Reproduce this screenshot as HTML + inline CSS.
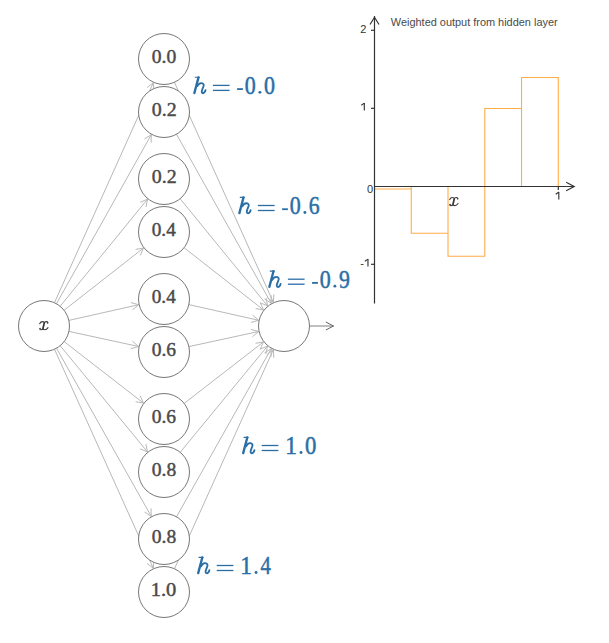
<!DOCTYPE html>
<html><head><meta charset="utf-8"><style>
html,body{margin:0;padding:0;background:#fff;}
svg{display:block;}
.nv{font-family:"Liberation Serif",serif;fill:#4a4a4a;}

.hl{font-family:"Liberation Serif",serif;fill:#2A6EA6;}

.tk{font-family:"Liberation Sans",sans-serif;font-size:11px;fill:#333;}
.ttl{font-family:"Liberation Sans",sans-serif;font-size:11px;fill:#4a4a4a;}
</style></head><body>
<svg width="609" height="643" viewBox="0 0 609 643">
<line x1="54.45" y1="302.74" x2="153.34" y2="82.71" stroke="#b8b8b8" stroke-width="1"/><polyline points="147.02,87.62 153.34,82.71 153.87,90.70" fill="none" stroke="#b8b8b8" stroke-width="1"/><line x1="174.45" y1="82.26" x2="273.34" y2="302.29" stroke="#b8b8b8" stroke-width="1"/><polyline points="273.87,294.30 273.34,302.29 267.02,297.38" fill="none" stroke="#b8b8b8" stroke-width="1"/><line x1="56.47" y1="303.76" x2="151.28" y2="134.68" stroke="#b8b8b8" stroke-width="1"/><polyline points="144.55,139.00 151.28,134.68 151.10,142.68" fill="none" stroke="#b8b8b8" stroke-width="1"/><line x1="176.47" y1="134.24" x2="271.28" y2="303.32" stroke="#b8b8b8" stroke-width="1"/><polyline points="271.10,295.32 271.28,303.32 264.55,299.00" fill="none" stroke="#b8b8b8" stroke-width="1"/><line x1="60.13" y1="306.25" x2="147.56" y2="199.14" stroke="#b8b8b8" stroke-width="1"/><polyline points="140.18,202.24 147.56,199.14 146.00,206.99" fill="none" stroke="#b8b8b8" stroke-width="1"/><line x1="180.13" y1="198.75" x2="267.56" y2="305.86" stroke="#b8b8b8" stroke-width="1"/><polyline points="266.00,298.01 267.56,305.86 260.18,302.76" fill="none" stroke="#b8b8b8" stroke-width="1"/><line x1="64.07" y1="310.28" x2="143.53" y2="248.03" stroke="#b8b8b8" stroke-width="1"/><polyline points="135.66,249.43 143.53,248.03 140.29,255.35" fill="none" stroke="#b8b8b8" stroke-width="1"/><line x1="184.07" y1="247.72" x2="263.53" y2="309.97" stroke="#b8b8b8" stroke-width="1"/><polyline points="260.29,302.65 263.53,309.97 255.66,308.57" fill="none" stroke="#b8b8b8" stroke-width="1"/><line x1="68.88" y1="320.40" x2="138.63" y2="304.71" stroke="#b8b8b8" stroke-width="1"/><polyline points="130.92,302.59 138.63,304.71 132.57,309.92" fill="none" stroke="#b8b8b8" stroke-width="1"/><line x1="188.88" y1="304.60" x2="258.63" y2="320.29" stroke="#b8b8b8" stroke-width="1"/><polyline points="252.57,315.08 258.63,320.29 250.92,322.41" fill="none" stroke="#b8b8b8" stroke-width="1"/><line x1="68.92" y1="331.40" x2="138.59" y2="346.49" stroke="#b8b8b8" stroke-width="1"/><polyline points="132.48,341.33 138.59,346.49 130.89,348.67" fill="none" stroke="#b8b8b8" stroke-width="1"/><line x1="188.92" y1="346.60" x2="258.59" y2="331.51" stroke="#b8b8b8" stroke-width="1"/><polyline points="250.89,329.33 258.59,331.51 252.48,336.67" fill="none" stroke="#b8b8b8" stroke-width="1"/><line x1="64.16" y1="341.62" x2="143.45" y2="403.07" stroke="#b8b8b8" stroke-width="1"/><polyline points="140.17,395.78 143.45,403.07 135.57,401.71" fill="none" stroke="#b8b8b8" stroke-width="1"/><line x1="184.16" y1="403.38" x2="263.45" y2="341.93" stroke="#b8b8b8" stroke-width="1"/><polyline points="255.57,343.29 263.45,341.93 260.17,349.22" fill="none" stroke="#b8b8b8" stroke-width="1"/><line x1="60.19" y1="345.70" x2="147.49" y2="451.91" stroke="#b8b8b8" stroke-width="1"/><polyline points="145.91,444.07 147.49,451.91 140.10,448.84" fill="none" stroke="#b8b8b8" stroke-width="1"/><line x1="180.19" y1="452.30" x2="267.49" y2="346.09" stroke="#b8b8b8" stroke-width="1"/><polyline points="260.10,349.16 267.49,346.09 265.91,353.93" fill="none" stroke="#b8b8b8" stroke-width="1"/><line x1="56.52" y1="348.22" x2="151.24" y2="516.35" stroke="#b8b8b8" stroke-width="1"/><polyline points="151.04,508.35 151.24,516.35 144.50,512.04" fill="none" stroke="#b8b8b8" stroke-width="1"/><line x1="176.52" y1="516.78" x2="271.24" y2="348.65" stroke="#b8b8b8" stroke-width="1"/><polyline points="264.50,352.96 271.24,348.65 271.04,356.65" fill="none" stroke="#b8b8b8" stroke-width="1"/><line x1="54.49" y1="349.24" x2="153.31" y2="568.30" stroke="#b8b8b8" stroke-width="1"/><polyline points="153.83,560.32 153.31,568.30 146.98,563.41" fill="none" stroke="#b8b8b8" stroke-width="1"/><line x1="174.49" y1="568.76" x2="273.31" y2="349.70" stroke="#b8b8b8" stroke-width="1"/><polyline points="266.98,354.59 273.31,349.70 273.83,357.68" fill="none" stroke="#b8b8b8" stroke-width="1"/><line x1="309.5" y1="326" x2="333.5" y2="326" stroke="#808080" stroke-width="1"/><polyline points="325.8,322 333.5,326 325.8,330" fill="none" stroke="#666" stroke-width="1"/>
<circle cx="44" cy="326" r="25.5" fill="#fff" stroke="#777" stroke-width="1"/><circle cx="284" cy="326" r="25.5" fill="#fff" stroke="#777" stroke-width="1"/><circle cx="164" cy="59" r="25.5" fill="#fff" stroke="#777" stroke-width="1"/><text class="nv" font-size="19.247" transform="translate(151.75,63.00) scale(1.0180,1)" x="0" y="0" stroke="#4a4a4a" stroke-width="0.45" style="">0.0</text><circle cx="164" cy="112" r="25.5" fill="#fff" stroke="#777" stroke-width="1"/><text class="nv" font-size="19.247" transform="translate(151.74,116.00) scale(1.0331,1)" x="0" y="0" stroke="#4a4a4a" stroke-width="0.45" style="">0.2</text><circle cx="164" cy="179" r="25.5" fill="#fff" stroke="#777" stroke-width="1"/><text class="nv" font-size="19.247" transform="translate(151.74,183.00) scale(1.0331,1)" x="0" y="0" stroke="#4a4a4a" stroke-width="0.45" style="">0.2</text><circle cx="164" cy="232" r="25.5" fill="#fff" stroke="#777" stroke-width="1"/><text class="nv" font-size="19.247" transform="translate(151.77,236.00) scale(0.9989,1)" x="0" y="0" stroke="#4a4a4a" stroke-width="0.45" style="">0.4</text><circle cx="164" cy="299" r="25.5" fill="#fff" stroke="#777" stroke-width="1"/><text class="nv" font-size="19.247" transform="translate(151.77,303.00) scale(0.9989,1)" x="0" y="0" stroke="#4a4a4a" stroke-width="0.45" style="">0.4</text><circle cx="164" cy="352" r="25.5" fill="#fff" stroke="#777" stroke-width="1"/><text class="nv" font-size="19.247" transform="translate(151.76,356.00) scale(1.0109,1)" x="0" y="0" stroke="#4a4a4a" stroke-width="0.45" style="">0.6</text><circle cx="164" cy="419" r="25.5" fill="#fff" stroke="#777" stroke-width="1"/><text class="nv" font-size="19.247" transform="translate(151.76,423.00) scale(1.0109,1)" x="0" y="0" stroke="#4a4a4a" stroke-width="0.45" style="">0.6</text><circle cx="164" cy="472" r="25.5" fill="#fff" stroke="#777" stroke-width="1"/><text class="nv" font-size="19.247" transform="translate(151.75,476.00) scale(1.0180,1)" x="0" y="0" stroke="#4a4a4a" stroke-width="0.45" style="">0.8</text><circle cx="164" cy="539" r="25.5" fill="#fff" stroke="#777" stroke-width="1"/><text class="nv" font-size="19.247" transform="translate(151.75,543.00) scale(1.0180,1)" x="0" y="0" stroke="#4a4a4a" stroke-width="0.45" style="">0.8</text><circle cx="164" cy="592" r="25.5" fill="#fff" stroke="#777" stroke-width="1"/><text class="nv" font-size="19.247" transform="translate(150.70,596.00) scale(1.0631,1)" x="0" y="0" stroke="#4a4a4a" stroke-width="0.45" style="">1.0</text><g transform="translate(43.85,325.7) scale(0.96,0.93) translate(-4.95,-4.55)" fill="none" stroke="#3a3a3a" stroke-linecap="round"><path d="M0.6,2.4 C1.4,0.9 2.4,0.2 3.4,0.2 C4.6,0.2 5.4,0.8 5.4,1.6" stroke-width="1.15"/><path d="M5.4,1.6 L4.0,7.6" stroke-width="1.8"/><path d="M4.0,7.6 C3.8,8.4 3.0,8.9 2.2,8.9 C1.4,8.9 0.8,8.5 0.6,8.0" stroke-width="1.15"/><path d="M9.2,1.4 C8.8,0.5 8.2,0.2 7.4,0.2 C6.4,0.2 5.6,1.0 5.4,1.6" stroke-width="1.15"/><path d="M4.0,7.6 C4.0,8.4 4.8,8.9 5.8,8.9 C7.2,8.9 8.6,7.8 9.3,6.6" stroke-width="1.15"/><circle cx="8.8" cy="1.6" r="0.75" fill="#3a3a3a" stroke="none"/><circle cx="1.1" cy="7.6" r="0.75" fill="#3a3a3a" stroke="none"/></g>
<g transform="translate(193,93.7)" fill="none" stroke="#2A6EA6" stroke-linecap="round" stroke-linejoin="round"><path d="M2.2,-16.45 L6.3,-16.45" stroke-width="1.15"/><path d="M5.5,-16.3 L1.4,-0.7" stroke-width="2.35"/><path d="M4.3,-7.6 C5.4,-9.6 6.7,-10.6 8.2,-10.6 C9.9,-10.6 11.0,-9.6 10.7,-8.0 L9.0,-3.4 C8.5,-1.7 8.9,-0.45 9.9,-0.45 C11.0,-0.45 12.0,-1.6 12.6,-3.6" stroke-width="1.85"/></g><rect x="212.90" y="84.75" width="16.70" height="1.3" fill="#2A6EA6"/><rect x="212.90" y="89.75" width="16.70" height="1.3" fill="#2A6EA6"/><rect x="237.10" y="88.20" width="5.8" height="1.8" fill="#2A6EA6"/><text class="hl" font-size="24.284" transform="translate(244.66,93.70) scale(0.9036,1)" x="0" y="0" stroke="#2A6EA6" stroke-width="0.5" style="">0</text><circle cx="259.90" cy="92.35" r="1.45" fill="#2A6EA6"/><text class="hl" font-size="24.284" transform="translate(263.96,93.70) scale(0.9036,1)" x="0" y="0" stroke="#2A6EA6" stroke-width="0.5" style="">0</text><g transform="translate(238,213.8)" fill="none" stroke="#2A6EA6" stroke-linecap="round" stroke-linejoin="round"><path d="M2.2,-16.45 L6.3,-16.45" stroke-width="1.15"/><path d="M5.5,-16.3 L1.4,-0.7" stroke-width="2.35"/><path d="M4.3,-7.6 C5.4,-9.6 6.7,-10.6 8.2,-10.6 C9.9,-10.6 11.0,-9.6 10.7,-8.0 L9.0,-3.4 C8.5,-1.7 8.9,-0.45 9.9,-0.45 C11.0,-0.45 12.0,-1.6 12.6,-3.6" stroke-width="1.85"/></g><rect x="257.90" y="204.85" width="16.70" height="1.3" fill="#2A6EA6"/><rect x="257.90" y="209.85" width="16.70" height="1.3" fill="#2A6EA6"/><rect x="282.10" y="208.30" width="5.8" height="1.8" fill="#2A6EA6"/><text class="hl" font-size="24.284" transform="translate(289.66,213.80) scale(0.9036,1)" x="0" y="0" stroke="#2A6EA6" stroke-width="0.5" style="">0</text><circle cx="304.90" cy="212.45" r="1.45" fill="#2A6EA6"/><text class="hl" font-size="24.392" transform="translate(308.86,213.80) scale(0.8924,1)" x="0" y="0" stroke="#2A6EA6" stroke-width="0.5" style="">6</text><g transform="translate(268,287.5)" fill="none" stroke="#2A6EA6" stroke-linecap="round" stroke-linejoin="round"><path d="M2.2,-16.45 L6.3,-16.45" stroke-width="1.15"/><path d="M5.5,-16.3 L1.4,-0.7" stroke-width="2.35"/><path d="M4.3,-7.6 C5.4,-9.6 6.7,-10.6 8.2,-10.6 C9.9,-10.6 11.0,-9.6 10.7,-8.0 L9.0,-3.4 C8.5,-1.7 8.9,-0.45 9.9,-0.45 C11.0,-0.45 12.0,-1.6 12.6,-3.6" stroke-width="1.85"/></g><rect x="287.90" y="278.55" width="16.70" height="1.3" fill="#2A6EA6"/><rect x="287.90" y="283.55" width="16.70" height="1.3" fill="#2A6EA6"/><rect x="312.10" y="282.00" width="5.8" height="1.8" fill="#2A6EA6"/><text class="hl" font-size="24.284" transform="translate(319.66,287.50) scale(0.9036,1)" x="0" y="0" stroke="#2A6EA6" stroke-width="0.5" style="">0</text><circle cx="334.90" cy="286.15" r="1.45" fill="#2A6EA6"/><text class="hl" font-size="24.392" transform="translate(339.10,287.50) scale(0.8934,1)" x="0" y="0" stroke="#2A6EA6" stroke-width="0.5" style="">9</text><g transform="translate(241.8,453.8)" fill="none" stroke="#2A6EA6" stroke-linecap="round" stroke-linejoin="round"><path d="M2.2,-16.45 L6.3,-16.45" stroke-width="1.15"/><path d="M5.5,-16.3 L1.4,-0.7" stroke-width="2.35"/><path d="M4.3,-7.6 C5.4,-9.6 6.7,-10.6 8.2,-10.6 C9.9,-10.6 11.0,-9.6 10.7,-8.0 L9.0,-3.4 C8.5,-1.7 8.9,-0.45 9.9,-0.45 C11.0,-0.45 12.0,-1.6 12.6,-3.6" stroke-width="1.85"/></g><rect x="261.70" y="444.85" width="16.70" height="1.3" fill="#2A6EA6"/><rect x="261.70" y="449.85" width="16.70" height="1.3" fill="#2A6EA6"/><text class="hl" font-size="24.464" transform="translate(285.35,453.80) scale(0.9521,1)" x="0" y="0" stroke="#2A6EA6" stroke-width="0.5" style="">1</text><circle cx="301.05" cy="452.45" r="1.45" fill="#2A6EA6"/><text class="hl" font-size="24.284" transform="translate(304.94,453.80) scale(0.9327,1)" x="0" y="0" stroke="#2A6EA6" stroke-width="0.5" style="">0</text><g transform="translate(196.8,573.8)" fill="none" stroke="#2A6EA6" stroke-linecap="round" stroke-linejoin="round"><path d="M2.2,-16.45 L6.3,-16.45" stroke-width="1.15"/><path d="M5.5,-16.3 L1.4,-0.7" stroke-width="2.35"/><path d="M4.3,-7.6 C5.4,-9.6 6.7,-10.6 8.2,-10.6 C9.9,-10.6 11.0,-9.6 10.7,-8.0 L9.0,-3.4 C8.5,-1.7 8.9,-0.45 9.9,-0.45 C11.0,-0.45 12.0,-1.6 12.6,-3.6" stroke-width="1.85"/></g><rect x="216.70" y="564.85" width="16.70" height="1.3" fill="#2A6EA6"/><rect x="216.70" y="569.85" width="16.70" height="1.3" fill="#2A6EA6"/><text class="hl" font-size="24.464" transform="translate(240.35,573.80) scale(0.9521,1)" x="0" y="0" stroke="#2A6EA6" stroke-width="0.5" style="">1</text><circle cx="256.05" cy="572.45" r="1.45" fill="#2A6EA6"/><text class="hl" font-size="24.536" transform="translate(260.40,573.80) scale(0.8417,1)" x="0" y="0" stroke="#2A6EA6" stroke-width="0.5" style="">4</text>
<path d="M374.50,186.5 L374.50,189.07 L411.26,189.07 L411.26,186.5 M411.26,186.5 L411.26,233.30 L448.02,233.30 L448.02,186.5 M448.02,186.5 L448.02,256.23 L484.78,256.23 L484.78,186.5 M484.78,186.5 L484.78,108.50 L521.54,108.50 L521.54,186.5 M521.54,186.5 L521.54,77.53 L558.30,77.53 L558.30,186.5 " fill="none" stroke="#ffad48" stroke-width="1.1"/><line x1="374.5" y1="303.5" x2="374.5" y2="16" stroke="#333" stroke-width="1.2"/><polyline points="370,24.5 374.5,17.3 379,24.5" fill="none" stroke="#333" stroke-width="1.2"/><line x1="374.5" y1="186.5" x2="574" y2="186.5" stroke="#333" stroke-width="1.2"/><polyline points="566.2,182.3 574.2,186.5 566.2,190.7" fill="none" stroke="#333" stroke-width="1.2"/><line x1="371.0" y1="30.3" x2="374.5" y2="30.3" stroke="#333" stroke-width="1.2"/><line x1="371.0" y1="108.3" x2="374.5" y2="108.3" stroke="#333" stroke-width="1.2"/><line x1="371.0" y1="264.3" x2="374.5" y2="264.3" stroke="#333" stroke-width="1.2"/><text x="360.3" y="32.6" class="tk">2</text><line x1="364.30" y1="103.00" x2="364.30" y2="110.60" stroke="#333" stroke-width="1.15"/><line x1="361.20" y1="105.30" x2="364.40" y2="103.10" stroke="#333" stroke-width="1.05"/><text x="360.3" y="266.6" class="tk">-</text><line x1="367.96" y1="259.00" x2="367.96" y2="266.60" stroke="#333" stroke-width="1.15"/><line x1="364.86" y1="261.30" x2="368.06" y2="259.10" stroke="#333" stroke-width="1.05"/><text x="367.1" y="193.1" class="tk">0</text><line x1="558.3" y1="186.5" x2="558.3" y2="190.0" stroke="#333" stroke-width="1.2"/><line x1="558.80" y1="191.90" x2="558.80" y2="199.50" stroke="#333" stroke-width="1.15"/><line x1="555.70" y1="194.20" x2="558.90" y2="192.00" stroke="#333" stroke-width="1.05"/><text x="390.85" y="26.4" class="ttl" textLength="166.8" lengthAdjust="spacingAndGlyphs">Weighted output from hidden layer</text><g transform="translate(453.85,201.6) scale(0.96,0.93) translate(-4.95,-4.55)" fill="none" stroke="#3a3a3a" stroke-linecap="round"><path d="M0.6,2.4 C1.4,0.9 2.4,0.2 3.4,0.2 C4.6,0.2 5.4,0.8 5.4,1.6" stroke-width="1.15"/><path d="M5.4,1.6 L4.0,7.6" stroke-width="1.8"/><path d="M4.0,7.6 C3.8,8.4 3.0,8.9 2.2,8.9 C1.4,8.9 0.8,8.5 0.6,8.0" stroke-width="1.15"/><path d="M9.2,1.4 C8.8,0.5 8.2,0.2 7.4,0.2 C6.4,0.2 5.6,1.0 5.4,1.6" stroke-width="1.15"/><path d="M4.0,7.6 C4.0,8.4 4.8,8.9 5.8,8.9 C7.2,8.9 8.6,7.8 9.3,6.6" stroke-width="1.15"/><circle cx="8.8" cy="1.6" r="0.75" fill="#3a3a3a" stroke="none"/><circle cx="1.1" cy="7.6" r="0.75" fill="#3a3a3a" stroke="none"/></g>
</svg>
</body></html>
